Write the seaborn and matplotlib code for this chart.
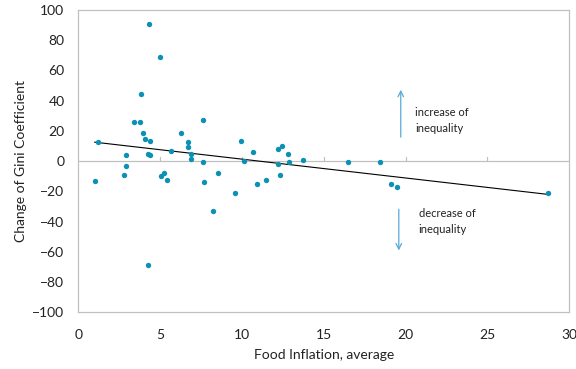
import numpy as np
import matplotlib
matplotlib.use("Agg")
import matplotlib.pyplot as plt
import seaborn as sns

# food inflation (x) vs change of Gini coefficient (y)
food_inflation = [4.34, 5.01, 3.83, 3.40, 3.77, 7.62, 3.95, 4.05, 4.36, 6.30,
                  6.70, 6.68, 5.68, 1.20, 9.97, 10.70, 4.28, 4.40, 2.91, 6.87,
                  6.91, 7.64, 10.13, 2.93, 0.99, 2.81, 5.03, 5.22, 5.40, 7.70,
                  8.56, 9.60, 8.25, 10.90, 4.28, 11.49, 12.21, 12.47, 12.82, 12.90,
                  12.21, 12.33, 13.76, 16.51, 18.43, 19.14, 19.49, 28.74]
gini_change = [90.9, 69.1, 44.6, 26.0, 25.8, 27.4, 18.3, 14.8, 13.5, 18.8,
               12.6, 9.3, 6.6, 12.4, 13.0, 6.0, 4.6, 4.0, 4.0, 4.6,
               1.5, -0.4, 0.2, -3.3, -13.5, -9.5, -9.7, -7.9, -12.8, -13.9,
               -7.7, -21.4, -33.1, -15.4, -69.1, -12.4, 7.9, 10.1, 4.4, -0.4,
               -1.8, -9.1, 0.5, -0.4, -0.4, -15.2, -17.0, -21.4]

x_ticks = [0, 5, 10, 15, 20, 25, 30]
y_ticks = [-100, -80, -60, -40, -20, 0, 20, 40, 60, 80, 100]

sns.set_style("white")
plt.rcParams['font.family'] = ['Lato', 'DejaVu Sans']

fig, ax = plt.subplots(figsize=(5.76, 3.69), dpi=100)
fig.subplots_adjust(left=0.136, right=0.988, bottom=0.154, top=0.973)

sns.scatterplot(x=food_inflation, y=gini_change, ax=ax, color="#0b91b4",
                s=15, linewidth=0, zorder=3)

# linear trend over the data range
slope, intercept = np.polyfit(food_inflation, gini_change, 1)
xs = np.array([min(food_inflation), max(food_inflation)])
ax.plot(xs, intercept + slope * xs, color="black", lw=0.8, zorder=2)

ax.set_xlim(0, 30)
ax.set_ylim(-100, 100)
ax.set_xticks(x_ticks)
ax.set_yticks(y_ticks)

for sp in ax.spines.values():
    sp.set_color("#c0c0c0")
    sp.set_linewidth(0.9)
ax.axhline(0, color="#c0c0c0", lw=0.9, zorder=1)
# x ticks sit on the zero line
for xt in x_ticks[1:-1]:
    ax.plot([xt, xt], [0, 3], color="#c0c0c0", lw=0.9, zorder=1)

ax.tick_params(axis="y", direction="in", length=4, color="#c0c0c0",
               labelsize=10, labelcolor="#222222", pad=10)
ax.tick_params(axis="x", length=0, labelsize=10, labelcolor="#222222", pad=12)

ax.set_xlabel("Food Inflation, average", fontsize=10, color="#222222", labelpad=6)
ax.set_ylabel("Change of Gini Coefficient", fontsize=10, color="#222222", labelpad=4)

arrow_kw = dict(arrowstyle="->", color="#5aa9d6", lw=0.9)
ax.annotate("", xy=(19.71, 49), xytext=(19.71, 14), arrowprops=arrow_kw)
ax.annotate("", xy=(19.59, -61), xytext=(19.59, -30), arrowprops=arrow_kw)
ax.text(20.6, 27, "increase of\ninequality", fontsize=8, color="#222222",
        va="center", linespacing=1.55)
ax.text(20.8, -40, "decrease of\ninequality", fontsize=8, color="#222222",
        va="center", linespacing=1.55)

plt.savefig("out.png", dpi=100)
